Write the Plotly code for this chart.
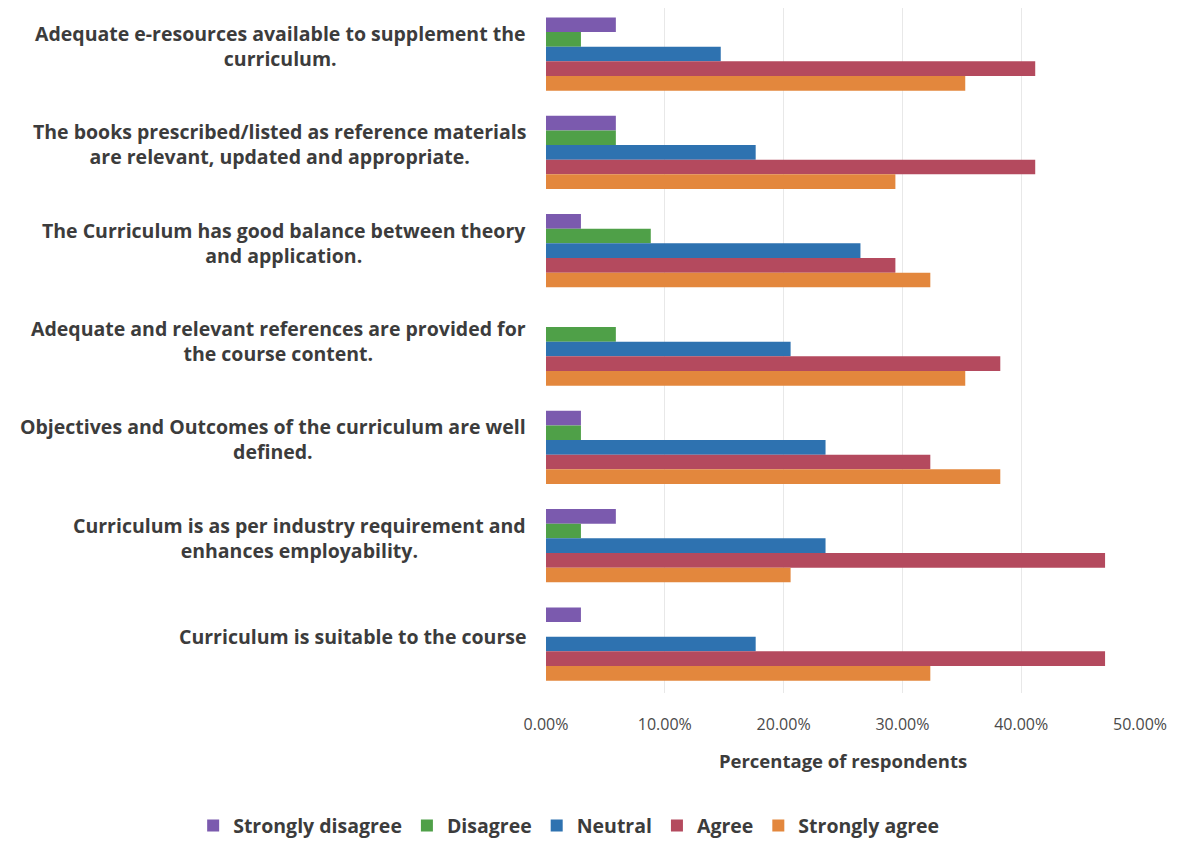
import plotly.graph_objects as go

categories = [
    "Adequate e-resources available to supplement the<br>curriculum.",
    "The books prescribed/listed as reference materials<br>are relevant, updated and appropriate.",
    "The Curriculum has good balance between theory<br>and application.",
    "Adequate and relevant references are provided for<br>the course content.",
    "Objectives and Outcomes of the curriculum are well<br>defined.",
    "Curriculum is as per industry requirement and<br>enhances employability.",
    "Curriculum is suitable to the course",
]

strongly_disagree = [5.88, 5.88, 2.94, 0.00, 2.94, 5.88, 2.94]
disagree = [2.94, 5.88, 8.82, 5.88, 2.94, 2.94, 0.00]
neutral = [14.71, 17.65, 26.47, 20.59, 23.53, 23.53, 17.65]
agree = [41.18, 41.18, 29.41, 38.24, 32.35, 47.06, 47.06]
strongly_agree = [35.29, 29.41, 32.35, 35.29, 38.24, 20.59, 32.35]

series_names = ["Strongly disagree", "Disagree", "Neutral", "Agree", "Strongly agree"]
series_values = [strongly_disagree, disagree, neutral, agree, strongly_agree]
series_colors = ["#7B5AAE", "#4FA048", "#2E72B0", "#B44A5E", "#E3873D"]

tick_vals = [0, 0.1, 0.2, 0.3, 0.4, 0.5]

FONT = "Open Sans, Lato, sans-serif"

fig = go.Figure()
for name, vals, col in zip(series_names, series_values, series_colors):
    fig.add_trace(go.Bar(
        y=categories,
        x=[v / 100 for v in vals],
        name=name,
        orientation="h",
        marker=dict(color=col, line=dict(width=0)),
    ))

for cat in categories:
    fig.add_annotation(
        xref="paper", yref="y", x=-0.03, y=cat,
        text="<b>" + cat + "</b>", showarrow=False,
        xanchor="right", yanchor="middle", align="center", yshift=8,
        font=dict(family=FONT, size=19.5, color="#3c3c3c"),
    )

fig.update_layout(
    width=1177, height=847,
    margin=dict(l=538, r=45, t=0, b=162, autoexpand=False),
    paper_bgcolor="white", plot_bgcolor="white",
    barmode="group", bargap=0.255, bargroupgap=0,
    font=dict(family=FONT, color="#404040"),
    showlegend=True,
    legend=dict(
        orientation="h", xref="paper", yref="paper",
        x=-0.594, xanchor="left", y=-0.194, yanchor="middle",
        font=dict(size=19.5, color="#3c3c3c", family=FONT, weight="bold"),
        itemwidth=30, traceorder="normal",
    ),
)
fig.update_xaxes(
    range=[0, 0.5], tickvals=tick_vals, tickformat=".2%",
    showgrid=True, gridcolor="#e8e8e8", gridwidth=1,
    zeroline=False, showline=False, ticks="",
    tickfont=dict(size=16, color="#4a4a4a", family=FONT),
    ticklabelstandoff=20,
    title=dict(text="<b>Percentage of respondents</b>", font=dict(size=18.5, color="#3c3c3c", family=FONT), standoff=21),
)
fig.update_yaxes(
    range=[6.498, -0.468], showticklabels=False, showgrid=False,
    zeroline=False, showline=False, ticks="",
)

fig.write_html("out.html")
